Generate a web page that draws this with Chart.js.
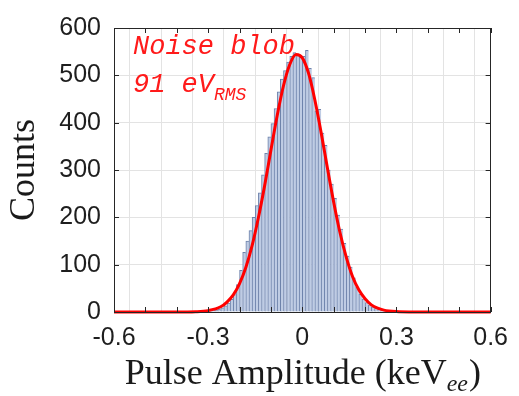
<!DOCTYPE html>
<html>
<head>
<meta charset="utf-8">
<script src="https://cdn.jsdelivr.net/npm/chart.js@4/dist/chart.umd.min.js"></script>
<style>
html,body{margin:0;padding:0;background:#fff;}
#wrap{width:519px;height:396px;position:relative;}
</style>
</head>
<body>
<div id="wrap"><canvas id="c" width="519" height="396"></canvas></div>
<script>
// Histogram bin centres (keV_ee)
const binCenters = [-0.295,-0.285,-0.275,-0.265,-0.255,-0.245,-0.235,-0.225,-0.215,-0.205,
  -0.195,-0.185,-0.175,-0.165,-0.155,-0.145,-0.135,-0.125,-0.115,-0.105,
  -0.095,-0.085,-0.075,-0.065,-0.055,-0.045,-0.035,-0.025,-0.015,-0.005,
  0.005,0.015,0.025,0.035,0.045,0.055,0.065,0.075,0.085,0.095,
  0.105,0.115,0.125,0.135,0.145,0.155,0.165,0.175,0.185,0.195,
  0.205,0.215,0.225,0.235,0.245,0.255,0.265,0.275,0.285,0.295];
// Counts per bin
const binCounts = [2,3,4,6,9,13,19,27,37,58,
  88,126,150,172,200,225,252,290,335,370,
  398,430,465,492,510,528,540,548,545,538,
  540,553,515,495,425,428,378,352,300,270,
  240,205,175,145,118,95,72,52,38,28,
  20,15,11,8,6,4,3,2,1,1];
// Gaussian fit curve
const fitX = [-0.6,-0.4,-0.34,-0.3,-0.26,-0.24,-0.22,-0.2,-0.18,-0.16,-0.14,-0.12,-0.1,-0.08,-0.06,-0.04,-0.02,0,
  0.02,0.04,0.06,0.08,0.1,0.12,0.14,0.16,0.18,0.2,0.22,0.24,0.26,0.3,0.34,0.4,0.6];
const fitY = [0,0,0.6,2.9,11,21,36,60,94,140,199,267,342,415,478,523,544,537,
  504,448,379,304,232,168,116,75,47,28,15,8,4,0.9,0.1,0,0];
// Axis ticks
const yTicks = [0,100,200,300,400,500,600];
const xLabelTicks = [-0.6,-0.3,0,0.3,0.6];
const xTitle = "Pulse Amplitude (keV";
const xTitleSub = "ee";
const yTitle = "Counts";
const noteLine1 = "Noise blob";
const noteLine2 = "91 eV";
const noteSub = "RMS";

const AX = '#1e1e1e';
const GRID = '#e3e3e3';

const decorPlugin = {
  id: 'decor',
  afterDatasetsDraw(chart) {
    const ctx = chart.ctx, a = chart.chartArea;
    const xs = chart.scales.x, ys = chart.scales.y;
    ctx.save();
    ctx.strokeStyle = '#262626'; ctx.lineWidth = 1;
    ctx.strokeRect(Math.round(a.left)+0.5, Math.round(a.top)+0.5, Math.round(a.right-a.left)-1, Math.round(a.bottom-a.top));
    const L = 5;
    ctx.beginPath();
    xs.ticks.forEach(t => {
      const px = Math.round(xs.getPixelForValue(t.value)) + 0.5;
      ctx.moveTo(px, a.bottom); ctx.lineTo(px, a.bottom - L);
      ctx.moveTo(px, a.top); ctx.lineTo(px, a.top + L);
    });
    ys.ticks.forEach(t => {
      const py = Math.round(ys.getPixelForValue(t.value)) + 0.5;
      ctx.moveTo(a.left, py); ctx.lineTo(a.left + L, py);
      ctx.moveTo(a.right, py); ctx.lineTo(a.right - L, py);
    });
    ctx.stroke();
    ctx.restore();
  },
  afterDraw(chart) {
    const ctx = chart.ctx, a = chart.chartArea;
    ctx.save();
    ctx.fillStyle = '#ff1a1a';
    ctx.textBaseline = 'alphabetic';
    ctx.textAlign = 'left';
    ctx.font = 'italic 27px "Liberation Mono"';
    ctx.fillText(noteLine1, 133, 54);
    ctx.fillText(noteLine2, 133, 92);
    const w2 = ctx.measureText(noteLine2).width;
    ctx.font = 'italic 18px "Liberation Mono"';
    ctx.fillText(noteSub, 133 + w2, 100);

    ctx.fillStyle = '#1a1a1a';
    const mainFont = '36px "Liberation Serif"';
    const subFont = 'italic 24px "Liberation Serif"';
    ctx.font = mainFont; const wMain = ctx.measureText(xTitle).width; const wClose = ctx.measureText(')').width;
    ctx.font = subFont; const wSub = ctx.measureText(xTitleSub).width;
    const total = wMain + wSub + wClose;
    let x0 = (a.left + a.right)/2 - total/2;
    const yb = 384;
    ctx.font = mainFont; ctx.fillText(xTitle, x0, yb);
    ctx.font = subFont; ctx.fillText(xTitleSub, x0 + wMain, yb + 7);
    ctx.font = mainFont; ctx.fillText(')', x0 + wMain + wSub + 1, yb);

    ctx.translate(34, (a.top + a.bottom)/2);
    ctx.rotate(-Math.PI/2);
    ctx.textAlign = 'center';
    ctx.font = '36px "Liberation Serif"';
    ctx.fillText(yTitle, 0, 0);
    ctx.restore();
  }
};

const barData = binCenters.map((x,i) => ({x: x, y: binCounts[i]}));
const fitData = fitX.map((x,i) => ({x: x, y: fitY[i]}));

new Chart(document.getElementById('c'), {
  data: {
    datasets: [
      {
        type: 'line', data: fitData, order: 0,
        borderColor: '#ff0000', borderWidth: 3, pointRadius: 0,
        cubicInterpolationMode: 'monotone', clip: false, fill: false
      },
      {
        type: 'bar', data: barData, order: 1,
        backgroundColor: '#bfcce4', borderColor: '#6d82ab',
        borderWidth: {left: 1, right: 0, top: 1, bottom: 0},
        barPercentage: 1, categoryPercentage: 1, grouped: false
      }
    ]
  },
  options: {
    responsive: false, animation: false,
    layout: {padding: {left: 0, right: 22, top: 20, bottom: 0}},
    plugins: {legend: {display: false}, tooltip: {enabled: false}},
    scales: {
      x: {
        type: 'linear', min: -0.6, max: 0.6, offset: false,
        afterFit(s) { s.height = 84; },
        afterBuildTicks(s) { s.ticks = [-0.6,-0.5,-0.4,-0.3,-0.2,-0.1,0,0.1,0.2,0.3,0.4,0.5,0.6].map(v => ({value: v})); },
        grid: {color: GRID, drawTicks: false, lineWidth: 1},
        border: {display: false},
        ticks: {
          autoSkip: false, maxRotation: 0, padding: 11,
          color: AX, font: {family: '"Liberation Sans"', size: 25},
          callback(v) {
            const hit = xLabelTicks.find(t => Math.abs(t - v) < 1e-6);
            if (hit === undefined) return '';
            return hit === 0 ? '0' : String(hit);
          }
        }
      },
      y: {
        min: 0, max: 600,
        afterFit(s) { s.width = 114; },
        afterBuildTicks(s) { s.ticks = yTicks.map(v => ({value: v})); },
        grid: {color: GRID, drawTicks: false, lineWidth: 1},
        border: {display: false},
        ticks: {padding: 13, color: AX, font: {family: '"Liberation Sans"', size: 25}}
      }
    }
  },
  plugins: [decorPlugin]
});
</script>
</body>
</html>
